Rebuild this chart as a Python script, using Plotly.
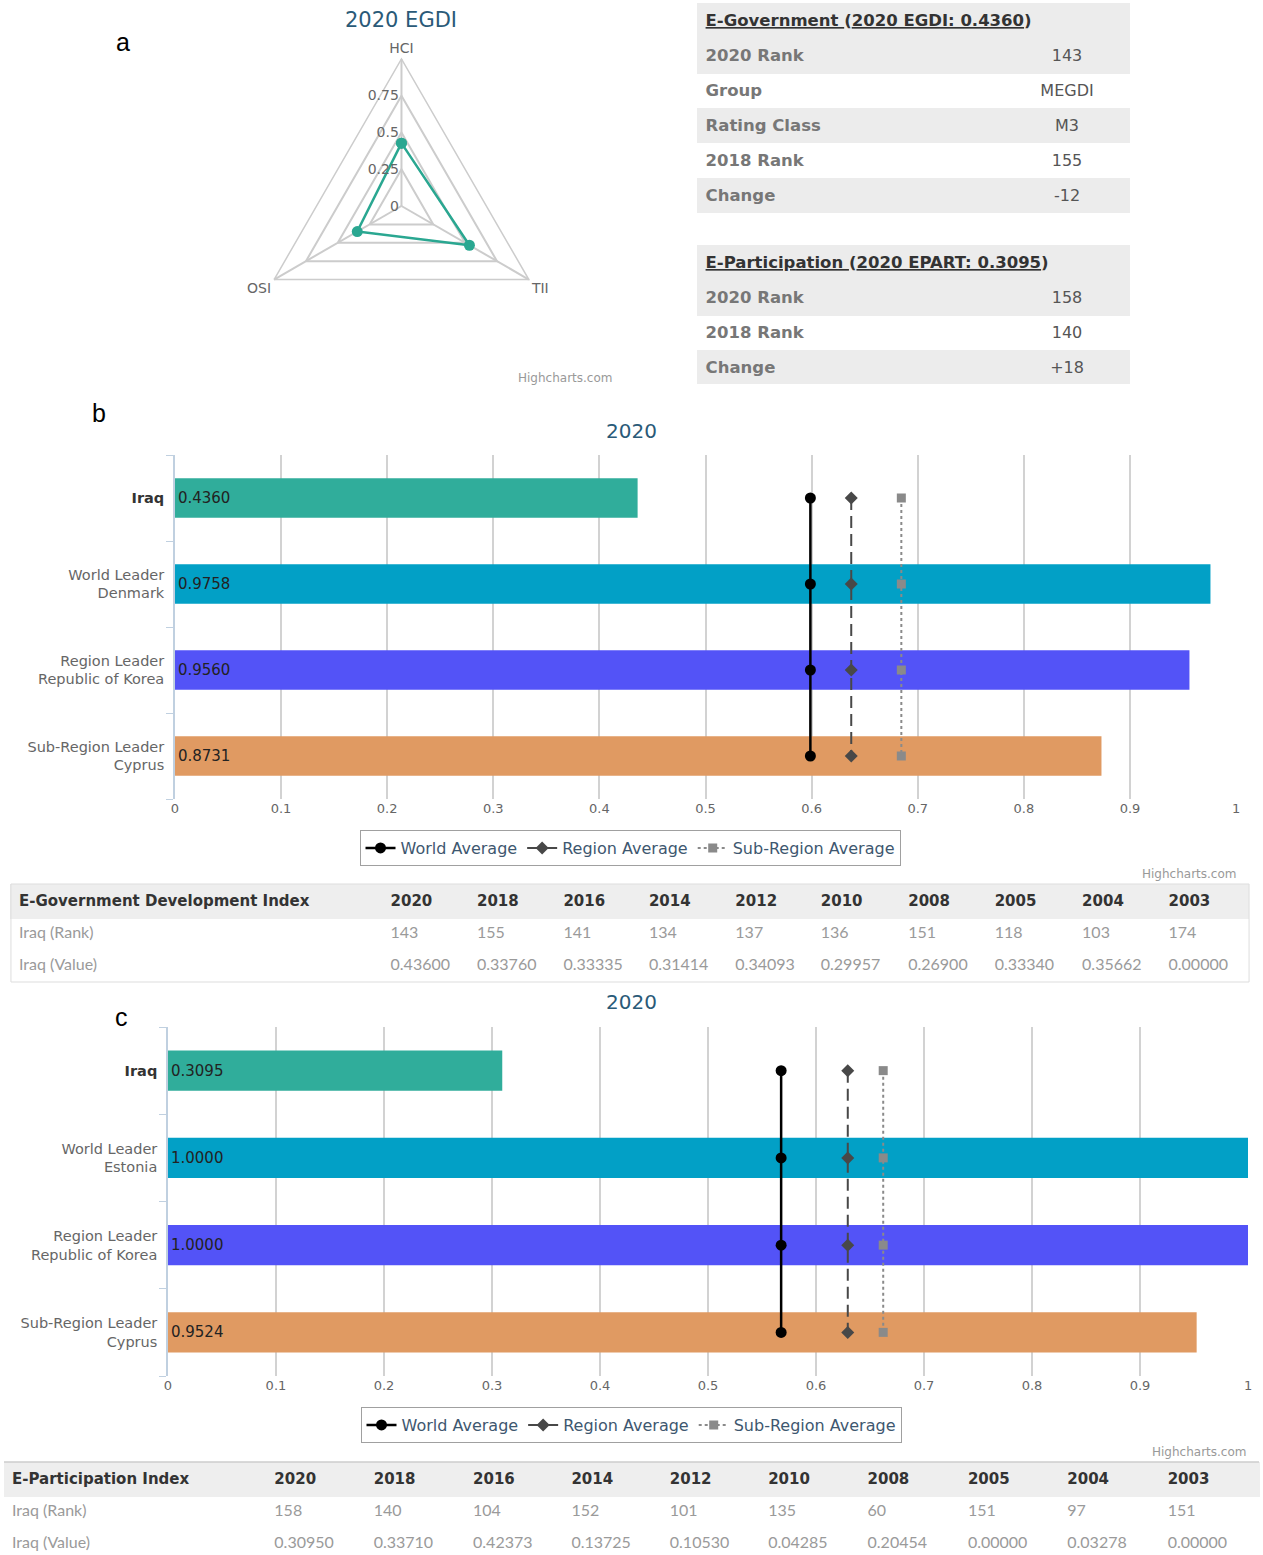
import plotly.graph_objects as go

W, H = 1263, 1555

# ---------------- data ----------------
radar_axes = ["HCI", "TII", "OSI"]
radar_values = [0.4273, 0.5336, 0.3471]
radar_ticks = [0, 0.25, 0.5, 0.75]

egov_name = "E-Government"
egov_index = "2020 EGDI: 0.4360"
egov_labels = ["2020 Rank", "Group", "Rating Class", "2018 Rank", "Change"]
egov_values = ["143", "MEGDI", "M3", "155", "-12"]

epart_name = "E-Participation"
epart_index = "2020 EPART: 0.3095"
epart_labels = ["2020 Rank", "2018 Rank", "Change"]
epart_values = ["158", "140", "+18"]

egdi_categories = ["Iraq", "World Leader<br>Denmark", "Region Leader<br>Republic of Korea",
                   "Sub-Region Leader<br>Cyprus"]
egdi_values = [0.4360, 0.9758, 0.9560, 0.8731]
egdi_averages = [0.5988, 0.6373, 0.6845]

epart_categories = ["Iraq", "World Leader<br>Estonia", "Region Leader<br>Republic of Korea",
                    "Sub-Region Leader<br>Cyprus"]
epart_bar_values = [0.3095, 1.0000, 1.0000, 0.9524]
epart_averages = [0.5677, 0.6294, 0.6622]

average_names = ["World Average", "Region Average", "Sub-Region Average"]

years = ["2020", "2018", "2016", "2014", "2012", "2010", "2008", "2005", "2004", "2003"]
egdi_ranks = [143, 155, 141, 134, 137, 136, 151, 118, 103, 174]
egdi_history = [0.43600, 0.33760, 0.33335, 0.31414, 0.34093, 0.29957, 0.26900, 0.33340, 0.35662, 0.00000]
epart_ranks = [158, 140, 104, 152, 101, 135, 60, 151, 97, 151]
epart_history = [0.30950, 0.33710, 0.42373, 0.13725, 0.10530, 0.04285, 0.20454, 0.00000, 0.03278, 0.00000]

# ---------------- styles ----------------
TITLE_COLOR = "#2a5a78"
GREY = "#ececec"
HEAD_GREY = "#eeeeee"
BAR_COLORS = ["#30ad9b", "#02a0c6", "#5353f7", "#e09a62"]
AVG_STYLES = [
    dict(line=dict(color="#000000", width=2.5), marker=dict(symbol="circle", size=11, color="#000000")),
    dict(line=dict(color="#484848", width=2, dash="12px,6px"), marker=dict(symbol="diamond", size=10, color="#484848")),
    dict(line=dict(color="#8a8a8a", width=2, dash="dot"), marker=dict(symbol="square", size=9, color="#8a8a8a")),
]
SANS = "DejaVu Sans"

fig = go.Figure()

# ---------------- a: radar ----------------
cx, cy, R = 400, 206, 148
fig.add_trace(go.Scatterpolar(
    r=radar_values + radar_values[:1], theta=radar_axes + radar_axes[:1],
    mode="lines+markers", line=dict(color="#2aa791", width=2.5),
    marker=dict(size=11, color="#2aa791"), showlegend=False, subplot="polar"))

# ---------------- info tables ----------------
ROW = 35
X0, X1 = 698, 1133

def info_table(name, index, labels, values, top):
    n = len(labels)
    title = f"<b><u>{name} </u>(<u>{index}</u>)</b>"
    # title row (its blank body row is covered by the table below)
    fig.add_trace(go.Table(
        domain=dict(x=[X0 / W, X1 / W], y=[1 - (top + ROW + 2) / H, 1 - top / H]),
        header=dict(values=[title], fill_color=GREY, line=dict(width=1, color=GREY), align="left",
                    height=ROW, font=dict(family=SANS, size=16.5, color="#333333")),
        cells=dict(values=[[""]], height=2, fill_color="white", line=dict(width=0, color="white"))))
    # body rows (first row carried by the header)
    fills = ["white" if i % 2 == 0 else GREY for i in range(n - 1)]
    fig.add_trace(go.Table(
        domain=dict(x=[X0 / W, X1 / W], y=[1 - (top + ROW * (n + 1)) / H, 1 - (top + ROW) / H]),
        columnwidth=[309, 126],
        header=dict(values=[f"<b>{labels[0]}</b>", f"<span>{values[0]}</span>"], fill_color=GREY,
                    line=dict(width=1, color=GREY),
                    align=["left", "center"], height=ROW,
                    font=dict(family=SANS, size=[16.5, 16], color=["#777777", "#555555"])),
        cells=dict(values=[[f"<b>{l}</b>" for l in labels[1:]], [f"<span>{v}</span>" for v in values[1:]]],
                   fill_color=[fills, fills], line=dict(width=1, color=[fills, fills]),
                   align=["left", "center"], height=ROW,
                   font=dict(family=SANS, size=[16.5, 16], color=["#777777", "#555555"]))))

info_table(egov_name, egov_index, egov_labels, egov_values, 3)
info_table(epart_name, epart_index, epart_labels, epart_values, 245)

# ---------------- bar panels ----------------
def bar_panel(cats, vals, avgs, xa, ya, legend):
    fig.add_trace(go.Bar(
        y=cats, x=vals, orientation="h", marker=dict(color=BAR_COLORS, line=dict(width=0)),
        width=0.46, text=[f"{v:.4f}" for v in vals], textposition="inside",
        insidetextanchor="start", textangle=0, constraintext="none",
        insidetextfont=dict(family=SANS, size=15, color="#222222"),
        xaxis=xa, yaxis=ya, showlegend=False))
    for nm, av, st in zip(average_names, avgs, AVG_STYLES):
        fig.add_trace(go.Scatter(
            x=[av] * len(cats), y=cats, mode="lines+markers", name=nm,
            line=st["line"], marker=st["marker"], xaxis=xa, yaxis=ya, legend=legend))

bar_panel(egdi_categories, egdi_values, egdi_averages, "x", "y", "legend")
bar_panel(epart_categories, epart_bar_values, epart_averages, "x2", "y2", "legend2")

def ticktexts(cats):
    return [f"<b><span style='color:#333333'>{c}</span></b>" if i == 0 else c
            for i, c in enumerate(cats)]

def xaxis_cfg(x0, x1, anchor):
    return dict(domain=[x0 / W, x1 / W], range=[0, 1], dtick=0.1, showgrid=True,
                gridcolor="#d2d2d2", gridwidth=1.5, zeroline=False, showline=False,
                ticks="", tickfont=dict(family=SANS, size=13, color="#666666"), anchor=anchor,
                fixedrange=True)

def yaxis_cfg(top, bottom, cats, anchor):
    return dict(domain=[1 - bottom / H, 1 - top / H], type="category", categoryorder="array",
                categoryarray=cats, range=[3.5, -0.5], tickvals=cats, ticktext=ticktexts(cats),
                showline=True, linecolor="#c0d0e0", linewidth=1.5, ticks="outside",
                tickson="boundaries", ticklen=7, tickcolor="#c0d0e0", showgrid=False,
                ticklabelstandoff=6,
                tickfont=dict(family=SANS, size=14.5, color="#666666"), anchor=anchor)

# ---------------- history tables ----------------
def history_table(index_name, ranks, vals, x0, x1, top, bottom, widths):
    fig.add_trace(go.Table(
        domain=dict(x=[x0 / W, x1 / W], y=[max(0, 1 - bottom / H), 1 - top / H]),
        columnwidth=widths,
        header=dict(values=[f"<b>{index_name}</b>"] + [f"<b>{y}</b>" for y in years],
                    fill_color=HEAD_GREY, line=dict(width=1, color=HEAD_GREY), align="left", height=33,
                    font=dict(family=SANS, size=15, color="#333333")),
        cells=dict(values=[["Iraq (Rank)", "Iraq (Value)"]] +
                   [[str(r), f"{v:.5f}"] for r, v in zip(ranks, vals)],
                   fill_color="white", line=dict(width=1, color="white"), align="left", height=32,
                   font=dict(family="Lato", size=16, color="#9a9a9a"))))

history_table("E-Government Development Index", egdi_ranks, egdi_history, 7, 1253, 884, 982,
              [374, 87, 87, 86, 87, 86, 88, 87, 88, 87, 89])
history_table("E-Participation Index", epart_ranks, epart_history, 0, 1263, 1462, 1560,
              [264, 100, 100, 99, 99, 99, 100, 101, 100, 101, 100])

# ---------------- layout ----------------
legend_common = dict(orientation="h", xanchor="center", yanchor="middle", bgcolor="white",
                     bordercolor="#a0a0a0", borderwidth=1,
                     font=dict(family=SANS, size=16, color="#3e576f"), itemwidth=30)

annotations = [
    dict(text="2020 EGDI", x=400 / W, y=1 - 20 / H, font=dict(family=SANS, size=21, color=TITLE_COLOR)),
    dict(text="2020", x=631 / W, y=1 - 431 / H, font=dict(family=SANS, size=20, color=TITLE_COLOR)),
    dict(text="2020", x=632 / W, y=1 - 1002 / H, font=dict(family=SANS, size=20, color=TITLE_COLOR)),
    dict(text="Highcharts.com", x=565 / W, y=1 - 378 / H, font=dict(family=SANS, size=12, color="#999999")),
    dict(text="Highcharts.com", x=1193 / W, y=1 - 874 / H, font=dict(family=SANS, size=12, color="#999999")),
    dict(text="Highcharts.com", x=1203 / W, y=1 - 1452 / H, font=dict(family=SANS, size=12, color="#999999")),
    dict(text="a", x=120 / W, y=1 - 42 / H, font=dict(family="Liberation Sans", size=25, color="#000000")),
    dict(text="b", x=96 / W, y=1 - 413 / H, font=dict(family="Liberation Sans", size=25, color="#000000")),
    dict(text="c", x=118 / W, y=1 - 1017 / H, font=dict(family="Liberation Sans", size=25, color="#000000")),
]
for a in annotations:
    a.update(xref="paper", yref="paper", showarrow=False, xanchor="center", yanchor="middle")

fig.update_layout(
    width=W, height=H, autosize=False, margin=dict(l=0, r=0, t=0, b=0),
    paper_bgcolor="white", plot_bgcolor="white",
    polar=dict(
        domain=dict(x=[(cx - R) / W, (cx + R) / W], y=[1 - (cy + R) / H, 1 - (cy - R) / H]),
        gridshape="linear", bgcolor="white",
        angularaxis=dict(direction="clockwise", rotation=90, categoryorder="array",
                         categoryarray=radar_axes, showline=True, linecolor="#cccccc", linewidth=1.5,
                         gridcolor="#cccccc", gridwidth=1.5, ticks="",
                         tickfont=dict(family=SANS, size=14, color="#666666")),
        radialaxis=dict(range=[0, 1], tickvals=radar_ticks, ticktext=[str(t) for t in radar_ticks],
                        angle=90, tickangle=90, side="counterclockwise", showline=False, ticks="",
                        gridcolor="#cccccc", gridwidth=1.5,
                        tickfont=dict(family=SANS, size=14, color="#666666"))),
    xaxis=xaxis_cfg(172, 1240, "y"),
    yaxis=yaxis_cfg(455, 799, egdi_categories, "x"),
    xaxis2=xaxis_cfg(165, 1252, "y2"),
    yaxis2=yaxis_cfg(1027, 1376, epart_categories, "x2"),
    legend=dict(x=630 / W, y=1 - 848 / H, **legend_common),
    legend2=dict(x=631 / W, y=1 - 1425 / H, **legend_common),
    annotations=annotations,
    shapes=[
        dict(type="rect", xref="paper", yref="paper", x0=7 / W, x1=1253 / W, y0=1 - 982 / H, y1=1 - 884 / H,
             line=dict(color="#dddddd", width=1), layer="above"),
        dict(type="line", xref="paper", yref="paper", x0=0, x1=1, y0=1 - 1462 / H, y1=1 - 1462 / H,
             line=dict(color="#cccccc", width=1.5), layer="above"),
    ],
)

fig.write_html("out.html", config={"displayModeBar": False}, post_script=(
    "document.body.style.margin='0px';document.body.style.padding='0px';"
    "document.body.style.overflow='hidden';"))
